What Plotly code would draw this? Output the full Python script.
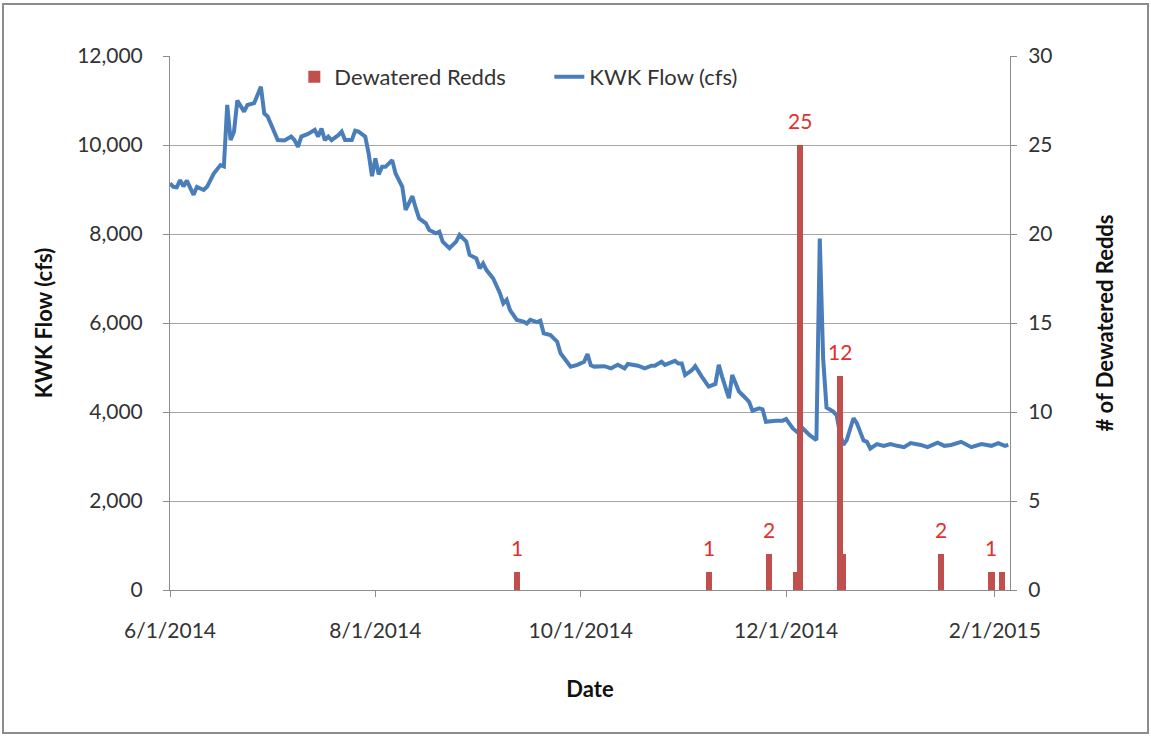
import pandas as pd
import plotly.graph_objects as go

# ---------------- data ----------------
START = "2014-06-01"

# KWK flow: day offset from 6/1/2014 and flow (cfs)
flow_day = [0, 1, 2, 3, 4, 5, 7, 8, 10, 11, 13, 15, 16, 17, 18, 19, 20, 22, 23, 25,
            27, 28, 29, 30, 32, 34, 36, 37, 38, 39, 41, 43, 44, 45, 46, 47, 48, 50, 51, 52,
            54, 55, 56, 58, 59, 60, 61, 62, 63, 64, 66, 67, 69, 70, 72, 73, 74, 76, 77, 79,
            80, 81, 83, 85, 86, 88, 89, 91, 92, 93, 94, 96, 98, 99, 100, 101, 103, 105, 106, 107,
            109, 110, 111, 113, 115, 116, 117, 119, 121, 123, 124, 125, 126, 129, 131, 133, 135, 136, 139, 141,
            143, 144, 146, 147, 150, 151, 152, 153, 155, 156, 158, 160, 162, 163, 164, 166, 167, 169, 171, 172,
            173, 175, 176, 177, 180, 182, 183, 185, 187, 188, 190, 192, 193, 194, 195, 196, 197, 198, 199, 200,
            201, 203, 204, 206, 207, 208, 210, 212, 214, 216, 218, 220, 223, 225, 228, 230, 232, 235, 238, 241,
            244, 246, 248, 249]
flow_cfs = [9140, 9060, 9050, 9210, 9070, 9200, 8880, 9060, 8990, 9060, 9360, 9550, 9520, 10900, 10110, 10300, 11000, 10750, 10900, 10940,
            11310, 10710, 10640, 10450, 10110, 10100, 10190, 10110, 9960, 10190, 10250, 10340, 10190, 10370, 10110, 10190, 10110, 10220, 10300, 10110,
            10110, 10320, 10300, 10190, 9810, 9300, 9700, 9340, 9510, 9510, 9660, 9360, 9060, 8540, 8850, 8580, 8350, 8240, 8090, 8015,
            8050, 7830, 7680, 7830, 7980, 7830, 7530, 7450, 7230, 7340, 7190, 7000, 6670, 6440, 6520, 6290, 6070, 6030, 5990, 6070,
            6020, 6050, 5770, 5730, 5580, 5320, 5210, 5020, 5060, 5130, 5300, 5050, 5020, 5030, 4980, 5060, 4980, 5080, 5040, 4980,
            5040, 5040, 5130, 5060, 5150, 5090, 5090, 4830, 4940, 5030, 4790, 4570, 4630, 5060, 4790, 4310, 4830, 4460, 4310, 4230,
            4030, 4080, 4060, 3780, 3805, 3805, 3840, 3630, 3505, 3630, 3480, 3370, 7900, 5200, 4100, 4050, 4010, 3930, 3520, 3260,
            3370, 3860, 3750, 3360, 3330, 3180, 3280, 3240, 3280, 3240, 3210, 3300, 3260, 3210, 3310, 3240, 3260, 3330, 3210, 3280,
            3240, 3300, 3240, 3260]

# Dewatered redds
redd_dates = ["2014-09-12", "2014-11-08", "2014-11-26", "2014-12-04", "2014-12-05",
              "2014-12-17", "2014-12-18", "2015-01-16", "2015-01-31", "2015-02-03"]
redd_counts = [1, 1, 2, 1, 25, 12, 2, 2, 1, 1]
redd_labels = ["1", "1", "2", "", "25", "12", "", "2", "1", ""]

x_tick_vals = ["2014-06-01", "2014-08-01", "2014-10-01", "2014-12-01", "2015-02-01"]
x_tick_text = ["6/1/2014", "8/1/2014", "10/1/2014", "12/1/2014", "2/1/2015"]
y1_ticks = [0, 2000, 4000, 6000, 8000, 10000, 12000]
y2_ticks = [0, 5, 10, 15, 20, 25, 30]

# ---------------- figure ----------------
FONT = "Lato"
TXT = "#333333"
AXC = "#8C8C8C"
flow_dates = pd.Timestamp(START) + pd.to_timedelta(flow_day, unit="D")
x_end = pd.Timestamp(START) + pd.Timedelta(days=249.5)

fig = go.Figure()
fig.add_trace(go.Bar(
    x=pd.to_datetime(redd_dates), y=redd_counts, yaxis="y2",
    name="Dewatered Redds", marker=dict(color="#C0504D", line=dict(width=0)),
    width=1.8 * 86400000,
))
fig.add_trace(go.Scatter(
    x=flow_dates, y=flow_cfs, yaxis="y", mode="lines",
    name="KWK Flow (cfs)", line=dict(color="#4A7EBB", width=4),
))

for d, c, t in zip(redd_dates, redd_counts, redd_labels):
    if t:
        fig.add_annotation(x=pd.Timestamp(d), y=c, xref="x", yref="y2", text=t,
                           showarrow=False, yanchor="middle", yshift=25,
                           font=dict(family=FONT, size=21, color="#E03030"))

# chart-area frame
fig.add_shape(type="rect", xref="paper", yref="paper",
              x0=-0.1988, x1=1.1643, y0=-0.2678, y1=1.0974,
              line=dict(color="#8C8C8C", width=2), fillcolor="rgba(0,0,0,0)", layer="below")

fig.update_layout(
    width=1151, height=736,
    margin=dict(l=170, r=141, t=56, b=146, autoexpand=False),
    paper_bgcolor="white", plot_bgcolor="white",
    font=dict(family=FONT, size=21, color=TXT),
    bargap=0, barmode="overlay",
    showlegend=True,
    legend=dict(orientation="h", x=0.148, y=0.961, xanchor="left", yanchor="middle",
                entrywidth=210,
                bgcolor="rgba(0,0,0,0)", font=dict(family=FONT, size=22, color=TXT),
                traceorder="normal"),
    xaxis=dict(
        type="date", range=[pd.Timestamp(START), x_end],
        tickvals=pd.to_datetime(x_tick_vals), ticktext=x_tick_text,
        showgrid=False, zeroline=False,
        showline=True, linecolor=AXC, linewidth=1,
        ticks="outside", ticklen=6, tickcolor=AXC, ticklabelstandoff=16,
        title=dict(text="<b>Date</b>", standoff=40, font=dict(family=FONT, size=22, color="#111111")),
    ),
    yaxis=dict(
        range=[0, 12000], tickvals=y1_ticks, tickformat=",",
        showgrid=True, gridcolor="#A6A6A6", gridwidth=1, zeroline=False,
        showline=True, linecolor=AXC, linewidth=1,
        ticks="outside", ticklen=6, tickcolor=AXC, ticklabelstandoff=16,
        title=dict(text="<b>KWK Flow (cfs)</b>", standoff=18, font=dict(family=FONT, size=22, color="#111111")),
    ),
    yaxis2=dict(
        range=[0, 30], tickvals=y2_ticks, overlaying="y", side="right",
        showgrid=False, zeroline=False,
        showline=True, linecolor=AXC, linewidth=1,
        ticks="outside", ticklen=6, tickcolor=AXC, ticklabelstandoff=7,
        title=dict(text="<b># of Dewatered Redds</b>", standoff=46, font=dict(family=FONT, size=22, color="#111111")),
    ),
)

fig.write_html(
    "out.html",
    config={"displayModeBar": False},
    post_script="document.body.style.margin='0';document.body.style.overflow='hidden';",
)
